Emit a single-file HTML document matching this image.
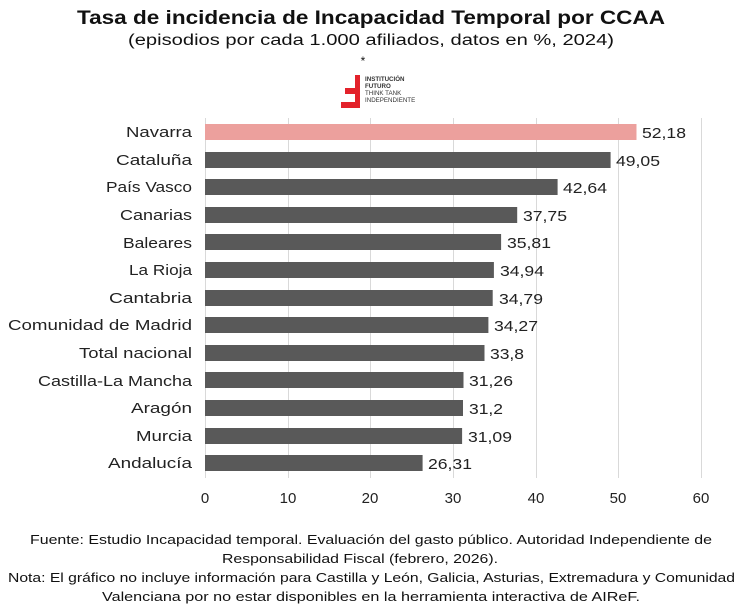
<!DOCTYPE html>
<html><head><meta charset="utf-8"><style>
body{margin:0;background:#fff;}
svg{display:block;font-family:"Liberation Sans","DejaVu Sans",sans-serif;}
</style></head><body>
<svg width="743" height="611" viewBox="0 0 743 611">
<text x="77" y="24" font-size="19" font-weight="bold" fill="#111" textLength="588" lengthAdjust="spacingAndGlyphs">Tasa de incidencia de Incapacidad Temporal por CCAA</text>
<text x="128" y="45" font-size="15.5" fill="#111" textLength="486" lengthAdjust="spacingAndGlyphs">(episodios por cada 1.000 afiliados, datos en %, 2024)</text>
<text x="363" y="65" text-anchor="middle" font-size="12" fill="#111">*</text>
<path d="M355 75 h5 v33 h-19 v-6 h14 v-8 h-10 v-6 h10 z" fill="#e3222b"/>
<g font-size="6.2" fill="#333" font-weight="bold"><text x="365" y="81">INSTITUCIÓN</text><text x="365" y="88">FUTURO</text></g>
<g font-size="6.2" fill="#333"><text x="365" y="95">THINK TANK</text><text x="365" y="102">INDEPENDIENTE</text></g>
<g stroke="#d9d9d9" stroke-width="1">
<line x1="205.5" y1="118" x2="205.5" y2="478"/><line x1="288.5" y1="118" x2="288.5" y2="478"/><line x1="370.5" y1="118" x2="370.5" y2="478"/><line x1="453.5" y1="118" x2="453.5" y2="478"/><line x1="536.5" y1="118" x2="536.5" y2="478"/><line x1="618.5" y1="118" x2="618.5" y2="478"/><line x1="701.5" y1="118" x2="701.5" y2="478"/>
</g>
<g font-size="15" fill="#222" text-anchor="middle">
<text x="205" y="503">0</text><text x="288" y="503">10</text><text x="370" y="503">20</text><text x="453" y="503">30</text><text x="536" y="503">40</text><text x="618" y="503">50</text><text x="701" y="503">60</text>
</g>
<g font-size="15" fill="#222">
<text x="126" y="137" textLength="66" lengthAdjust="spacingAndGlyphs">Navarra</text>
<text x="116" y="165" textLength="76" lengthAdjust="spacingAndGlyphs">Cataluña</text>
<text x="106" y="192" textLength="86" lengthAdjust="spacingAndGlyphs">País Vasco</text>
<text x="120" y="220" textLength="72" lengthAdjust="spacingAndGlyphs">Canarias</text>
<text x="123" y="248" textLength="69" lengthAdjust="spacingAndGlyphs">Baleares</text>
<text x="129" y="275" textLength="63" lengthAdjust="spacingAndGlyphs">La Rioja</text>
<text x="109" y="303" textLength="83" lengthAdjust="spacingAndGlyphs">Cantabria</text>
<text x="8" y="330" textLength="184" lengthAdjust="spacingAndGlyphs">Comunidad de Madrid</text>
<text x="79" y="358" textLength="113" lengthAdjust="spacingAndGlyphs">Total nacional</text>
<text x="38" y="386" textLength="154" lengthAdjust="spacingAndGlyphs">Castilla-La Mancha</text>
<text x="131" y="413" textLength="61" lengthAdjust="spacingAndGlyphs">Aragón</text>
<text x="136" y="441" textLength="56" lengthAdjust="spacingAndGlyphs">Murcia</text>
<text x="108" y="468" textLength="84" lengthAdjust="spacingAndGlyphs">Andalucía</text>
<rect x="205" y="124" width="431.5" height="16" fill="#eca09d"/>
<g fill="#595959">
<rect x="205" y="152" width="405.6" height="16"/>
<rect x="205" y="179" width="352.6" height="16"/>
<rect x="205" y="207" width="312.2" height="16"/>
<rect x="205" y="234" width="296.1" height="16"/>
<rect x="205" y="262" width="288.9" height="16"/>
<rect x="205" y="290" width="287.7" height="16"/>
<rect x="205" y="317" width="283.4" height="16"/>
<rect x="205" y="345" width="279.5" height="16"/>
<rect x="205" y="372" width="258.5" height="16"/>
<rect x="205" y="400" width="258" height="16"/>
<rect x="205" y="428" width="257.1" height="16"/>
<rect x="205" y="455" width="217.6" height="16"/>
</g>
<g textLength="44" lengthAdjust="spacingAndGlyphs">
<text x="642" y="138" textLength="44" lengthAdjust="spacingAndGlyphs">52,18</text>
<text x="616" y="166" textLength="44" lengthAdjust="spacingAndGlyphs">49,05</text>
<text x="563" y="193" textLength="44" lengthAdjust="spacingAndGlyphs">42,64</text>
<text x="523" y="221" textLength="44" lengthAdjust="spacingAndGlyphs">37,75</text>
<text x="507" y="248" textLength="44" lengthAdjust="spacingAndGlyphs">35,81</text>
<text x="500" y="276" textLength="44" lengthAdjust="spacingAndGlyphs">34,94</text>
<text x="499" y="304" textLength="44" lengthAdjust="spacingAndGlyphs">34,79</text>
<text x="494" y="331" textLength="44" lengthAdjust="spacingAndGlyphs">34,27</text>
<text x="490" y="359" textLength="34" lengthAdjust="spacingAndGlyphs">33,8</text>
<text x="469" y="386" textLength="44" lengthAdjust="spacingAndGlyphs">31,26</text>
<text x="469" y="414" textLength="34" lengthAdjust="spacingAndGlyphs">31,2</text>
<text x="468" y="442" textLength="44" lengthAdjust="spacingAndGlyphs">31,09</text>
<text x="428" y="469" textLength="44" lengthAdjust="spacingAndGlyphs">26,31</text>
</g>
</g>
<g font-size="13" fill="#111">
<text x="30" y="544" textLength="682" lengthAdjust="spacingAndGlyphs">Fuente: Estudio Incapacidad temporal. Evaluación del gasto público. Autoridad Independiente de</text>
<text x="222" y="563" textLength="276" lengthAdjust="spacingAndGlyphs">Responsabilidad Fiscal (febrero, 2026).</text>
<text x="8" y="582" textLength="727" lengthAdjust="spacingAndGlyphs">Nota: El gráfico no incluye información para Castilla y León, Galicia, Asturias, Extremadura y Comunidad</text>
<text x="102" y="601" textLength="538" lengthAdjust="spacingAndGlyphs">Valenciana por no estar disponibles en la herramienta interactiva de AIReF.</text>
</g>
</svg>
</body></html>
